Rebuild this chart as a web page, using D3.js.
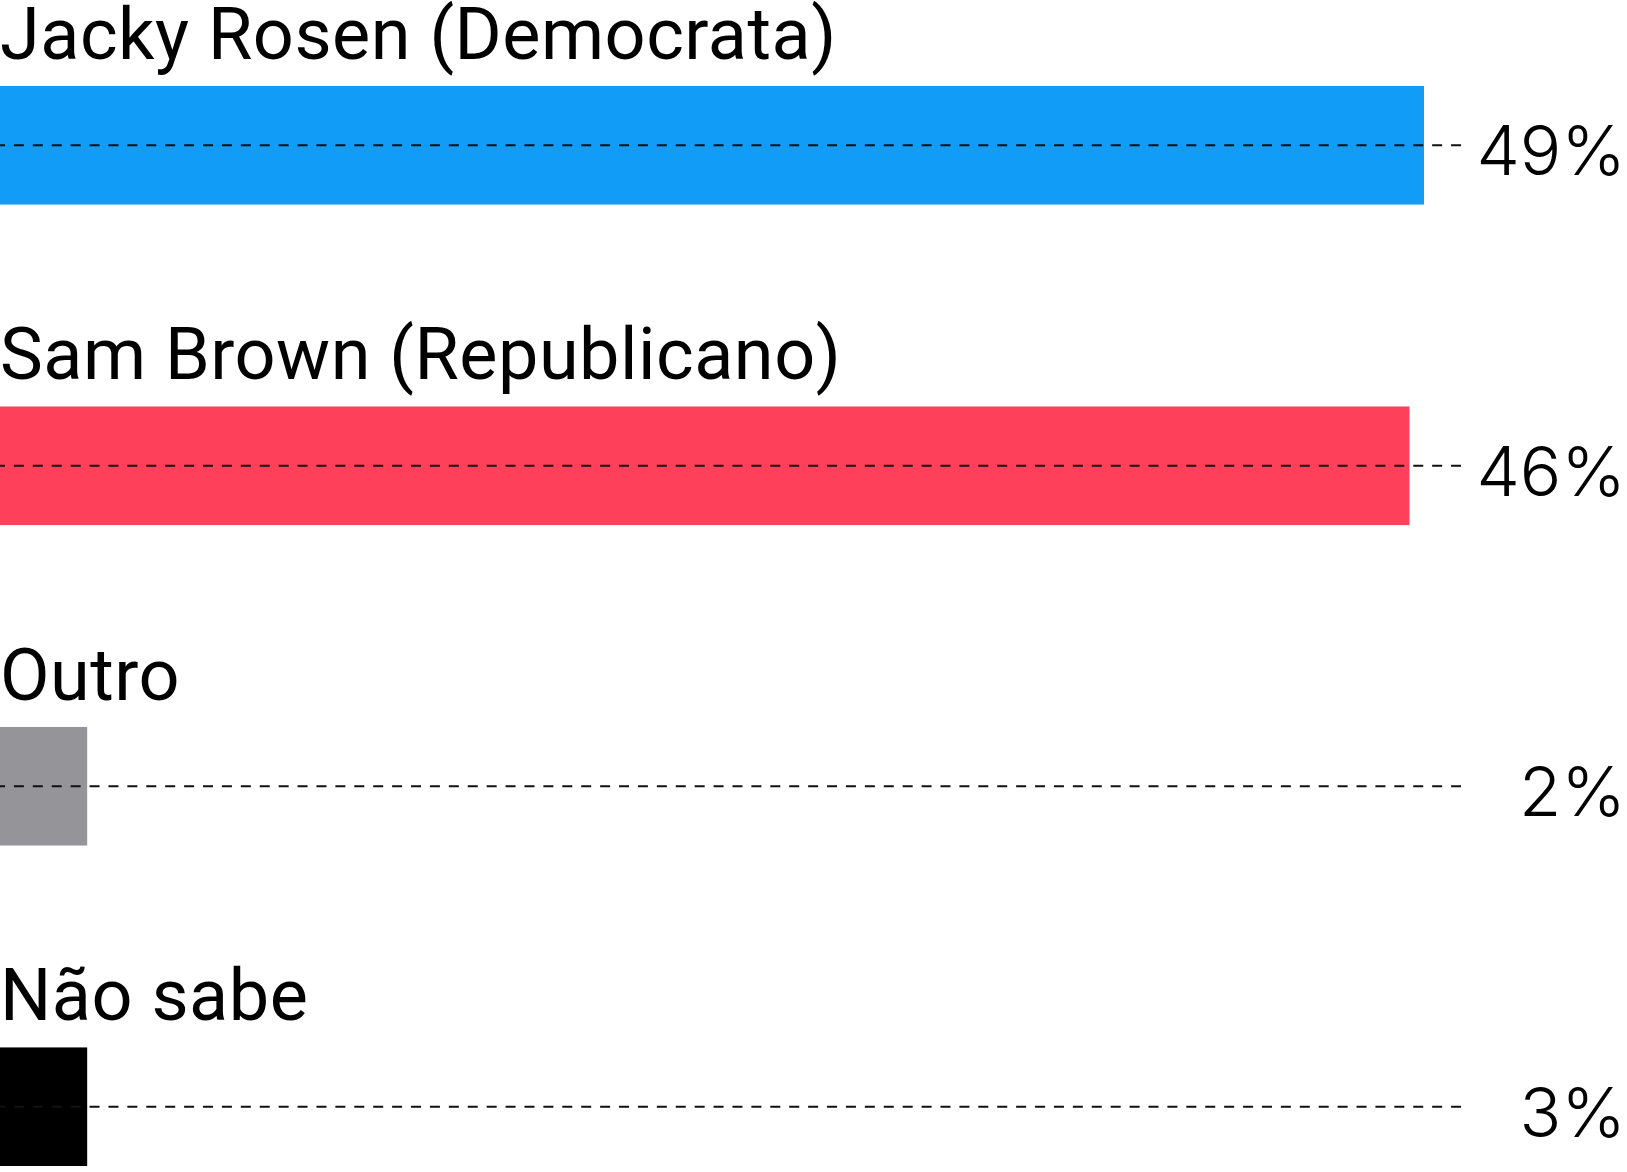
<!DOCTYPE html>
<html>
<head>
<meta charset="utf-8">
<script src="https://cdn.jsdelivr.net/npm/d3@7"></script>
<style>
  html, body { margin: 0; padding: 0; background: #fff; }
  svg { display: block; }
</style>
</head>
<body>
<svg id="chart"></svg>
<script>
const width = 1627;
const height = 1172;

// DATA
const candidates = ['Jacky Rosen (Democrata)', 'Sam Brown (Republicano)', 'Outro', 'Não sabe'];
const shares = [49, 46, 2, 3];              // printed percentages
const barValues = [49, 48.5, 3, 3];         // bar lengths as drawn in the original
const barColors = ['#109cf7', '#ff405a', '#959599', '#000000'];

const rows = candidates.map((name, i) => ({
    name,
    share: shares[i],
    bar: barValues[i],
    color: barColors[i]
}));

// SCALES
const x = d3.scaleLinear()
    .domain([0, d3.max(barValues)])
    .range([0, 1424]);

const y = d3.scaleBand()
    .domain(candidates)
    .range([86, 1166])
    .paddingInner(0.63)
    .paddingOuter(0);

const lineEnd = 1461;
const labelFont = 'Roboto, "Noto Sans", sans-serif';
const numFont = 'Inter, Roboto, sans-serif';

const svg = d3.select('#chart')
    .attr('width', width)
    .attr('height', height);

const row = svg.selectAll('g.row')
    .data(rows)
    .enter().append('g')
    .attr('class', 'row')
    .attr('transform', d => `translate(0, ${y(d.name)})`);

// bars
row.append('rect')
    .attr('x', x(0))
    .attr('y', 0)
    .attr('width', d => x(d.bar))
    .attr('height', y.bandwidth())
    .attr('fill', d => d.color);

// dashed guide through the middle of each bar
row.append('line')
    .attr('x1', 0)
    .attr('x2', lineEnd)
    .attr('y1', y.bandwidth() / 2)
    .attr('y2', y.bandwidth() / 2)
    .attr('stroke', '#111')
    .attr('stroke-width', 2)
    .attr('stroke-dasharray', '10,8.91')
    .attr('stroke-dashoffset', 5);

// category label above the bar
row.append('text')
    .attr('x', 0)
    .attr('y', -27)
    .attr('fill', '#000')
    .style('font-family', labelFont)
    .style('font-size', '72px')
    .style('letter-spacing', '0.5px')
    .text(d => d.name);

// value on the right
row.append('text')
    .attr('x', 1626)
    .attr('y', y.bandwidth() / 2)
    .attr('dy', 30)
    .attr('text-anchor', 'end')
    .attr('fill', '#000')
    .style('font-family', numFont)
    .style('font-size', '69px')
    .style('font-weight', 300)
    .text(d => `${d.share}%`);
</script>
</body>
</html>
